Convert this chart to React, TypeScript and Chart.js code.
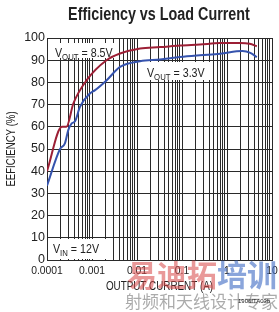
import React, { useEffect, useRef } from "react";
import { Chart, registerables } from "chart.js";
Chart.register(...registerables);

// Output current (A) and efficiency (%) for VOUT = 8.5V
const current85 = [0.0001, 0.000215, 0.00027, 0.000385, 0.00076, 0.0021, 0.0042, 0.0117, 0.0325, 0.09, 0.25, 0.7, 1.95, 3.2, 4.6];
const eff85 = [40, 60, 60, 70.5, 81, 90, 93, 95.3, 95.9, 96.6, 97.1, 97.7, 97.8, 97.4, 96.3];

// Output current (A) and efficiency (%) for VOUT = 3.3V
const current33 = [0.0001, 0.000195, 0.00025, 0.000297, 0.000354, 0.00042, 0.00054, 0.0009, 0.00117, 0.00212, 0.0042, 0.0117, 0.0325, 0.09, 0.25, 0.7, 2.2, 3.3, 4.6];
const eff33 = [33.5, 50, 52.5, 58.5, 61.5, 62.5, 69, 75, 76.5, 81, 87, 89.5, 90.3, 91.4, 92.2, 92.9, 94.1, 93.3, 91.4];

const xTickValues = [0.0001, 0.001, 0.01, 0.1, 1, 10];
const xTickLabels = ["0.0001", "0.001", "0.01", "0.1", "1", "10"];
const yTickValues = [0, 10, 20, 30, 40, 50, 60, 70, 80, 90, 100];
const yTickLabels = ["0", "10", "20", "30", "40", "50", "60", "70", "80", "90", "100"];

const seriesNames = ["VOUT = 8.5V", "VOUT = 3.3V"];
const xTitle = "OUTPUT CURRENT (A)";
const yTitle = "EEFICIENCY (%)";
const FAMILY = '"Liberation Sans", Arial, sans-serif';
const INK = "#222";

type Label = { x: number; y: number; w: number; h: number; tx: number; ty: number; main: string; sub: string; rest: string };
const labels: Label[] = [
  { x: 48, y: 43, w: 67, h: 15, tx: 55, ty: 57, main: "V", sub: "OUT", rest: " = 8.5V" },
  { x: 143, y: 62, w: 67, h: 18, tx: 147, ty: 77, main: "V", sub: "OUT", rest: " = 3.3V" },
  { x: 48, y: 239, w: 59, h: 20, tx: 53, ty: 253, main: "V", sub: "IN", rest: " = 12V" },
];

function drawText(ctx: CanvasRenderingContext2D, text: string, x: number, y: number, font: string, sx: number, align: CanvasTextAlign, rot = 0) {
  ctx.save();
  ctx.translate(x, y);
  if (rot) ctx.rotate(rot);
  ctx.scale(sx, 1);
  ctx.font = font;
  ctx.textAlign = align;
  ctx.textBaseline = "middle";
  ctx.fillStyle = INK;
  ctx.fillText(text, 0, 0);
  ctx.restore();
}

const labelPlugin = {
  id: "vlabels",
  beforeDatasetsDraw(chart: any) {
    const ctx: CanvasRenderingContext2D = chart.ctx;
    const sx = 0.82;
    for (const l of labels) {
      ctx.save();
      ctx.fillStyle = "#ffffff";
      ctx.fillRect(l.x, l.y, l.w, l.h);
      ctx.translate(l.tx, l.ty);
      ctx.scale(sx, 1);
      ctx.fillStyle = INK;
      ctx.textBaseline = "alphabetic";
      ctx.textAlign = "left";
      let x = 0;
      ctx.font = `13px ${FAMILY}`;
      ctx.fillText(l.main, x, 0);
      x += ctx.measureText(l.main).width;
      ctx.font = `9.5px ${FAMILY}`;
      ctx.fillText(l.sub, x, 2.5);
      x += ctx.measureText(l.sub).width;
      ctx.font = `13px ${FAMILY}`;
      ctx.fillText(l.rest, x, 0);
      ctx.restore();
    }
  },
  afterDraw(chart: any) {
    const ctx: CanvasRenderingContext2D = chart.ctx;
    const area = chart.chartArea;
    const xs = chart.scales.x;
    const ys = chart.scales.y;
    xTickValues.forEach((v, i) => {
      drawText(ctx, xTickLabels[i], xs.getPixelForValue(v), area.bottom + 11, `11.5px ${FAMILY}`, 0.9, "center");
    });
    yTickValues.forEach((v, i) => {
      drawText(ctx, yTickLabels[i], area.left - 2, ys.getPixelForValue(v), `12.5px ${FAMILY}`, 1, "right");
    });
    drawText(ctx, xTitle, (area.left + area.right) / 2, 287, `12px ${FAMILY}`, 0.82, "center");
    drawText(ctx, yTitle, 12, (area.top + area.bottom) / 2, `12px ${FAMILY}`, 0.8, "center", -Math.PI / 2);
  },
};

export default function App() {
  const ref = useRef<HTMLCanvasElement>(null);
  useEffect(() => {
    document.body.style.margin = "0";
    const gridTicks: number[] = [];
    for (let d = 0; d < xTickValues.length - 1; d++) {
      for (let m = 1; m <= 9; m++) gridTicks.push(xTickValues[d] * m);
    }
    gridTicks.push(xTickValues[xTickValues.length - 1]);
    const chart = new Chart(ref.current!, {
      type: "line",
      data: {
        datasets: [
          {
            label: seriesNames[0],
            data: current85.map((c, i) => ({ x: c, y: eff85[i] })),
            borderColor: "#9c1f35",
            borderWidth: 2,
            pointRadius: 0,
            cubicInterpolationMode: "monotone",
            fill: false,
          },
          {
            label: seriesNames[1],
            data: current33.map((c, i) => ({ x: c, y: eff33[i] })),
            borderColor: "#3553ad",
            borderWidth: 2,
            pointRadius: 0,
            cubicInterpolationMode: "monotone",
            fill: false,
          },
        ],
      },
      options: {
        animation: false,
        responsive: false,
        events: [],
        layout: { padding: { left: 0, top: 38, right: 7, bottom: 0 } },
        plugins: { legend: { display: false }, tooltip: { enabled: false }, title: { display: false } },
        scales: {
          x: {
            type: "logarithmic",
            min: xTickValues[0],
            max: xTickValues[xTickValues.length - 1],
            afterBuildTicks: (scale: any) => {
              scale.ticks = gridTicks.map((v) => ({ value: v }));
            },
            afterFit: (scale: any) => {
              scale.height = 52;
            },
            grid: { color: "#2a2a2a", lineWidth: 1, drawTicks: false },
            border: { color: "#2a2a2a", width: 1 },
            ticks: { display: false, autoSkip: false },
            title: { display: false },
          },
          y: {
            min: yTickValues[0],
            max: yTickValues[yTickValues.length - 1],
            afterFit: (scale: any) => {
              scale.width = 47;
            },
            grid: { color: "#2a2a2a", lineWidth: 1, drawTicks: false },
            border: { color: "#2a2a2a", width: 1 },
            ticks: { display: false, stepSize: 10 },
            title: { display: false },
          },
        },
      },
      plugins: [labelPlugin],
    } as any);
    return () => chart.destroy();
  }, []);

  return (
    <div style={{ position: "relative", width: 279, height: 312, overflow: "hidden", background: "#fff" }}>
      <canvas ref={ref} width={279} height={312} style={{ position: "absolute", left: 0, top: 0 }} />
      <div
        style={{
          position: "absolute",
          left: 0,
          width: 318,
          top: 4,
          textAlign: "center",
          font: `bold 17.5px ${FAMILY}`,
          color: INK,
          lineHeight: "20px",
          whiteSpace: "nowrap",
          transform: "scaleX(0.82)",
          transformOrigin: "159px 10px",
        }}
      >
        Efficiency vs Load Current
      </div>
      <div
        style={{
          position: "absolute",
          left: 127,
          top: 258,
          font: 'bold 30px "Noto Sans CJK SC", sans-serif',
          lineHeight: "30px",
          whiteSpace: "nowrap",
        }}
      >
        <span style={{ color: "rgba(215, 70, 70, 0.55)" }}>易迪拓</span>
        <span style={{ color: "rgba(60, 105, 195, 0.6)" }}>培训</span>
      </div>
      <div
        style={{
          position: "absolute",
          left: 125,
          top: 292,
          font: '17px "Noto Sans CJK SC", sans-serif',
          lineHeight: "18px",
          color: "rgba(150,150,150,0.8)",
          whiteSpace: "nowrap",
        }}
      >
        射频和天线设计专家
      </div>
      <div
        style={{
          position: "absolute",
          left: 238,
          top: 298,
          font: `6px ${FAMILY}`,
          lineHeight: "7px",
          color: INK,
          whiteSpace: "nowrap",
        }}
      >
        1906fTA03b
      </div>
    </div>
  );
}
